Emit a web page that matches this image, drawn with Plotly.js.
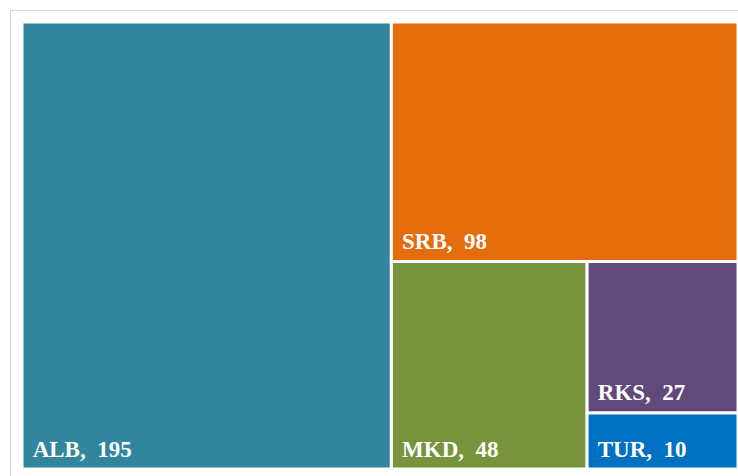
<!DOCTYPE html>
<html>
<head>
<meta charset="utf-8">
<script src="https://cdn.plot.ly/plotly-3.0.1.min.js"></script>
<style>
html,body{margin:0;padding:0;background:#fff;overflow:hidden;}
#frame{position:absolute;left:10px;top:10px;width:800px;height:600px;border:1px solid #d9d9d9;box-sizing:border-box;}
#chart{position:absolute;left:0;top:0;width:738px;height:476px;}
</style>
</head>
<body>
<div id="frame"></div>
<div id="chart"></div>
<script>
const categories = ["ALB", "SRB", "MKD", "RKS", "TUR"];
const values = [195, 98, 48, 27, 10];
const colors = ["#31859C", "#E46C0A", "#77933C", "#604A7B", "#0070C0"];

const trace = {
  type: "treemap",
  labels: categories,
  parents: categories.map(() => ""),
  values: values,
  sort: true,
  texttemplate: "<span style='font-size:23px'>\u00a0\u200a%{label},\u00a0\u00a0%{value}</span><br>\u00a0",
  textposition: "bottom left",
  textfont: {family: "Liberation Serif, Times New Roman, serif", size: 6.5, color: "#ffffff", weight: "bold"},
  marker: {colors: colors, line: {color: "#ffffff", width: 3}, pad: {t: 0, l: 0, r: 0, b: 0}},
  tiling: {packing: "squarify", pad: 0},
  pathbar: {visible: false},
  hoverinfo: "label+value"
};

const layout = {
  width: 738, height: 476,
  margin: {l: 22, r: 0, t: 22, b: 7},
  paper_bgcolor: "rgba(0,0,0,0)",
  plot_bgcolor: "rgba(0,0,0,0)",
  showlegend: false
};

Plotly.newPlot("chart", [trace], layout, {displayModeBar: false, staticPlot: true});
</script>
</body>
</html>
